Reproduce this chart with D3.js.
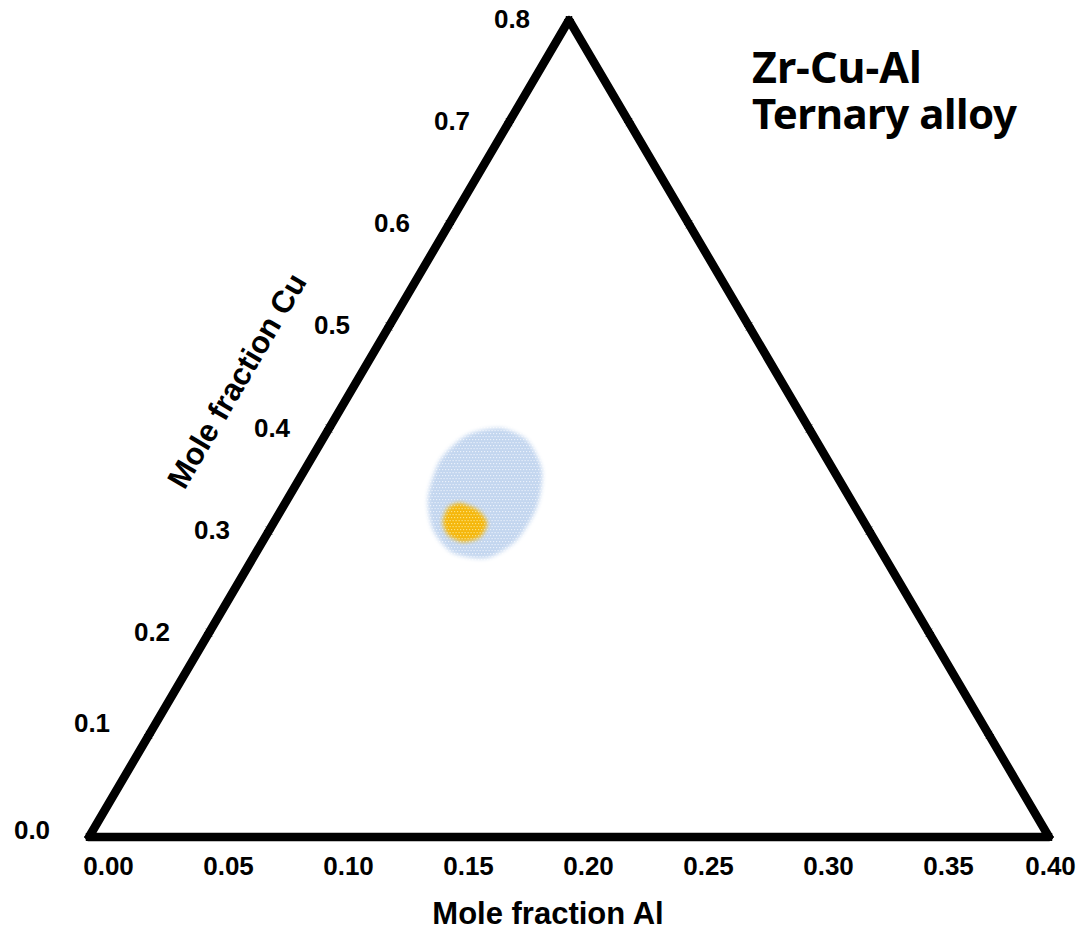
<!DOCTYPE html>
<html>
<head>
<meta charset="utf-8">
<script src="https://cdn.jsdelivr.net/npm/d3@7"></script>
<style>
  html, body { margin: 0; padding: 0; background: #fff; }
  text { font-family: "Liberation Sans", Arial, sans-serif; font-weight: bold; fill: #000; }
</style>
</head>
<body>
<script>
// tick values on the two labelled sides
const alTicks = [0.00, 0.05, 0.10, 0.15, 0.20, 0.25, 0.30, 0.35, 0.40];
const cuTicks = [0.0, 0.1, 0.2, 0.3, 0.4, 0.5, 0.6, 0.7, 0.8];

// glass forming region outline, [Al, Cu] mole fractions
const regionAl = [0.0711, 0.0853, 0.0989, 0.1059, 0.1056, 0.0975, 0.0821, 0.0682, 0.0580, 0.0540, 0.0591];
const regionCu = [0.4005, 0.3887, 0.3594, 0.3231, 0.2908, 0.2732, 0.2781, 0.3006, 0.3329, 0.3692, 0.3936];

// best composition spot outline, [Al, Cu]
const bestAl = [0.0728, 0.0820, 0.0890, 0.0895, 0.0836, 0.0757, 0.0704, 0.0690];
const bestCu = [0.3271, 0.3202, 0.3075, 0.2938, 0.2889, 0.2957, 0.3084, 0.3222];

const w = 1081, h = 931;

const svg = d3.select("body").append("svg")
    .attr("width", w)
    .attr("height", h);

const xAl = d3.scaleLinear().domain([0, 0.4]).range([89, 1049]);
const cuShift = d3.scaleLinear().domain([0, 0.8]).range([0, 480]);
const yCu = d3.scaleLinear().domain([0, 0.8]).range([837, 20]);

// (Al, Cu) -> pixel
const proj = (a, c) => [xAl(a) + cuShift(c), yCu(c)];

const defs = svg.append("defs");

function dotPattern(id, bg, dot) {
    const p = defs.append("pattern")
        .attr("id", id)
        .attr("patternUnits", "userSpaceOnUse")
        .attr("width", 3).attr("height", 6);
    p.append("rect").attr("width", 3).attr("height", 6).attr("fill", bg);
    p.append("rect").attr("x", 1).attr("y", 1).attr("width", 1.2).attr("height", 1.2).attr("fill", dot);
    p.append("rect").attr("x", 2.5).attr("y", 4).attr("width", 1.2).attr("height", 1.2).attr("fill", dot);
    p.append("rect").attr("x", -0.5).attr("y", 4).attr("width", 1.2).attr("height", 1.2).attr("fill", dot);
}
dotPattern("blueDots", "#c3d6ef", "#eaf1fb");
dotPattern("yellowDots", "#f5b70c", "#fde27a");

defs.append("filter").attr("id", "soft")
    .attr("x", "-20%").attr("y", "-20%").attr("width", "140%").attr("height", "140%")
    .append("feGaussianBlur").attr("stdDeviation", 2);

const outline = d3.line().curve(d3.curveCardinalClosed.tension(0.2));

function region(id, al, cu, fill) {
    const pts = al.map((a, i) => proj(a, cu[i]));
    defs.append("mask").attr("id", id)
        .attr("maskUnits", "userSpaceOnUse")
        .attr("x", 0).attr("y", 0).attr("width", w).attr("height", h)
        .append("path")
        .attr("d", outline(pts))
        .attr("fill", "#fff")
        .attr("filter", "url(#soft)");
    svg.append("rect")
        .attr("width", w).attr("height", h)
        .attr("fill", fill)
        .attr("mask", `url(#${id})`);
}
region("regionMask", regionAl, regionCu, "url(#blueDots)");
region("bestMask", bestAl, bestCu, "url(#yellowDots)");

// triangle frame
const corners = [proj(0, 0), proj(0.4, 0), proj(0, 0.8)];
svg.append("path")
    .attr("d", d3.line()(corners) + "Z")
    .attr("fill", "none")
    .attr("stroke", "#000")
    .attr("stroke-width", 8.5)
    .attr("stroke-linejoin", "round");

// star tick markers on all three sides
const star = "M-5,0L5,0M-3,-4L3,4M-3,4L3,-4";
const tickPts = [];
alTicks.forEach(a => tickPts.push(proj(a, 0)));
cuTicks.forEach(c => tickPts.push(proj(0, c)));
cuTicks.forEach(c => tickPts.push(proj(0.4 - c / 2, c)));
svg.append("g").selectAll("path")
    .data(tickPts)
    .join("path")
    .attr("d", star)
    .attr("transform", d => `translate(${d[0]},${d[1]})`)
    .attr("stroke", "#000")
    .attr("stroke-width", 1)
    .attr("fill", "none");

// bottom axis labels (sit a bit right of their ticks, last one pulled back in)
const xAxis = d3.axisBottom(xAl)
    .tickValues(alTicks)
    .tickFormat(d3.format(".2f"))
    .tickSize(0)
    .tickPadding(0);
const gx = svg.append("g")
    .attr("transform", "translate(0,856)")
    .call(xAxis);
gx.select(".domain").remove();
gx.selectAll("text")
    .attr("dx", d => d === 0.4 ? 1 : 19)
    .attr("dy", "0.74em")
    .attr("font-size", 26)
    .attr("font-family", null);

// left side labels
svg.append("g").selectAll("text")
    .data(cuTicks)
    .join("text")
    .attr("x", d => proj(0, d)[0] - 57)
    .attr("y", d => proj(0, d)[1] + 8 - (d === 0 ? 6 : d === 0.1 ? 11 : 0))
    .attr("text-anchor", "middle")
    .attr("font-size", 26)
    .text(d => d3.format(".1f")(d));

// axis titles
svg.append("text")
    .attr("x", 548)
    .attr("y", 924)
    .attr("text-anchor", "middle")
    .attr("font-size", 31)
    .text("Mole fraction Al");

const ang = -Math.atan2(yCu(0) - yCu(0.8), cuShift(0.8)) * 180 / Math.PI;
svg.append("text")
    .attr("transform", `translate(246,386) rotate(${ang})`)
    .attr("text-anchor", "middle")
    .attr("font-size", 31)
    .text("Mole fraction Cu");

// title
svg.append("text")
    .attr("x", 752)
    .attr("y", 83)
    .style("font-family", "'Noto Sans', sans-serif")
    .attr("font-size", 43)
    .text("Zr-Cu-Al");
svg.append("text")
    .attr("x", 752)
    .attr("y", 129)
    .style("font-family", "'Noto Sans', sans-serif")
    .attr("font-size", 42)
    .attr("letter-spacing", -0.5)
    .text("Ternary alloy");
</script>
</body>
</html>
